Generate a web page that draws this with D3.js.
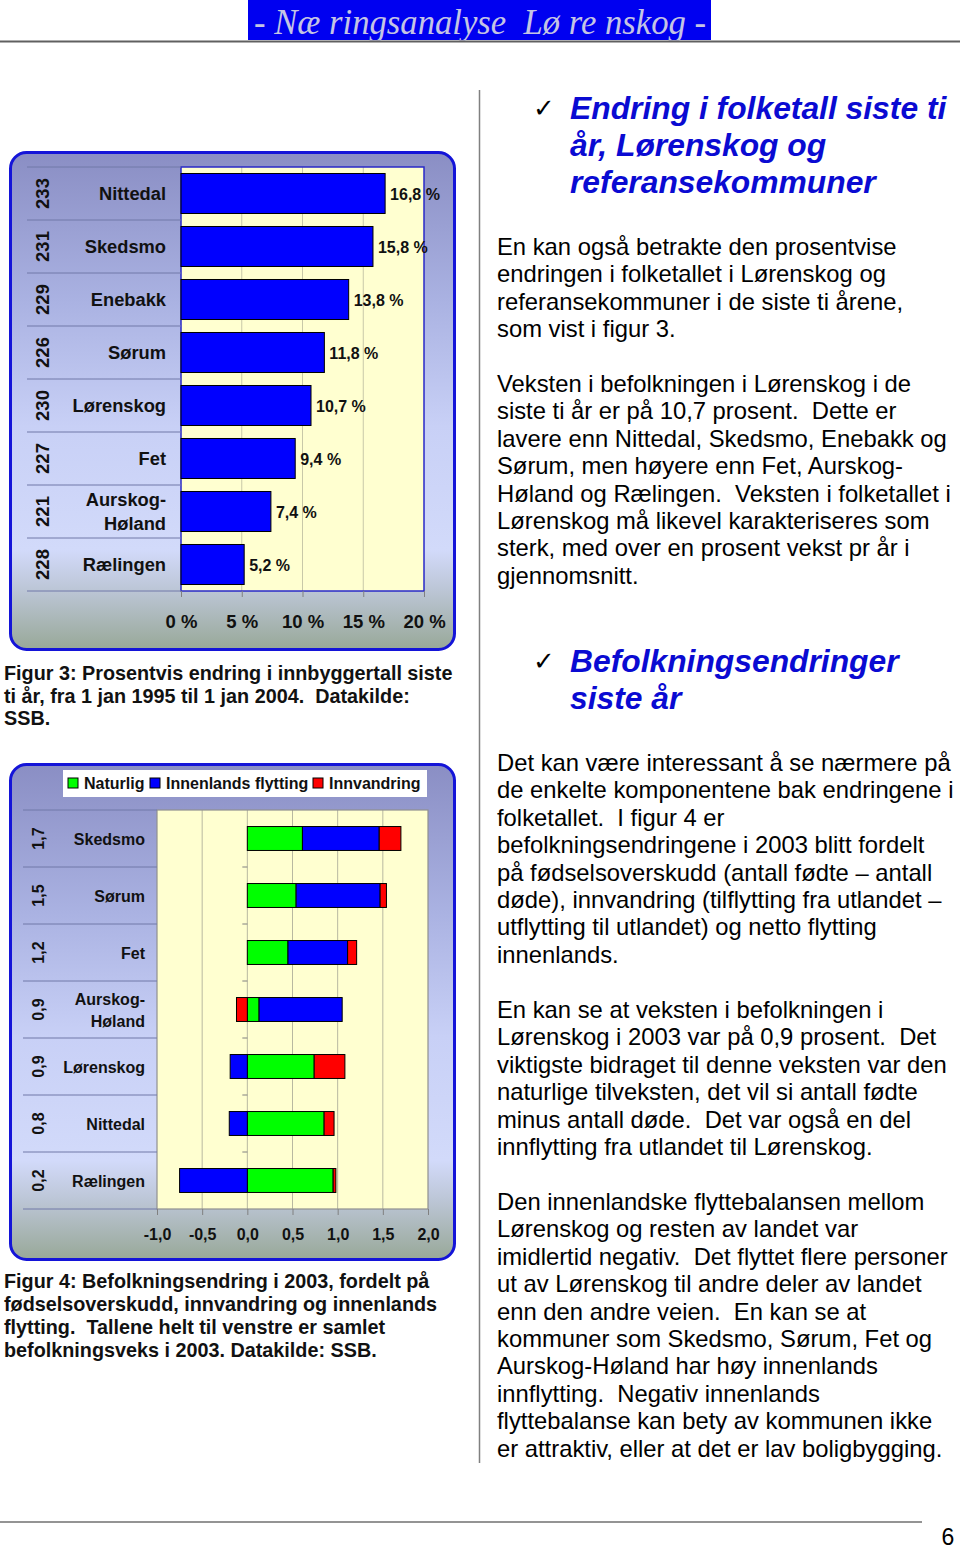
<!DOCTYPE html>
<html><head><meta charset="utf-8">
<script src="https://cdn.jsdelivr.net/npm/d3@7"></script>
<style>
html,body{margin:0;padding:0;background:#fff;}
svg{display:block;}
text{font-family:Arial,"Liberation Sans",Helvetica,sans-serif;white-space:pre;}
</style></head>
<body>
<svg id="page" width="960" height="1549"></svg>
<script>
// ---------- Figure 3 data ----------
const codes1 = ["233","231","229","226","230","227","221","228"];
const names1 = ["Nittedal","Skedsmo","Enebakk","Sørum","Lørenskog","Fet","Aurskog-Høland","Rælingen"];
const values1 = [16.8,15.8,13.8,11.8,10.7,9.4,7.4,5.2];
const ticks1 = [0,5,10,15,20];

// ---------- Figure 4 data ----------
const names2 = ["Skedsmo","Sørum","Fet","Aurskog-Høland","Lørenskog","Nittedal","Rælingen"];
const totals2 = ["1,7","1,5","1,2","0,9","0,9","0,8","0,2"];
const naturlig = [0.61,0.54,0.45,0.13,0.74,0.85,0.95];
const innenlands = [0.85,0.93,0.66,0.92,-0.19,-0.20,-0.75];
const innvandring = [0.24,0.07,0.10,-0.12,0.34,0.11,0.03];
const seriesNames = ["Naturlig","Innenlands flytting","Innvandring"];
const seriesColors = ["#00ff00","#0000ff","#ff0000"];
const ticks2 = [-1,-0.5,0,0.5,1,1.5,2];

// ---------- Text ----------
const headerText = "- Næ ringsanalyse  Lø re nskog -";
const heading1 = ["Endring i folketall siste ti","år, Lørenskog og","referansekommuner"];
const heading2 = ["Befolkningsendringer","siste år"];
const para1 = ["En kan også betrakte den prosentvise","endringen i folketallet i Lørenskog og","referansekommuner i de siste ti årene,","som vist i figur 3."];
const para2 = ["Veksten i befolkningen i Lørenskog i de","siste ti år er på 10,7 prosent.  Dette er","lavere enn Nittedal, Skedsmo, Enebakk og","Sørum, men høyere enn Fet, Aurskog-","Høland og Rælingen.  Veksten i folketallet i","Lørenskog må likevel karakteriseres som","sterk, med over en prosent vekst pr år i","gjennomsnitt."];
const para3 = ["Det kan være interessant å se nærmere på","de enkelte komponentene bak endringene i","folketallet.  I figur 4 er","befolkningsendringene i 2003 blitt fordelt","på fødselsoverskudd (antall fødte – antall","døde), innvandring (tilflytting fra utlandet –","utflytting til utlandet) og netto flytting","innenlands."];
const para4 = ["En kan se at veksten i befolkningen i","Lørenskog i 2003 var på 0,9 prosent.  Det","viktigste bidraget til denne veksten var den","naturlige tilveksten, det vil si antall fødte","minus antall døde.  Det var også en del","innflytting fra utlandet til Lørenskog."];
const para5 = ["Den innenlandske flyttebalansen mellom","Lørenskog og resten av landet var","imidlertid negativ.  Det flyttet flere personer","ut av Lørenskog til andre deler av landet","enn den andre veien.  En kan se at","kommuner som Skedsmo, Sørum, Fet og","Aurskog-Høland har høy innenlands","innflytting.  Negativ innenlands","flyttebalanse kan bety av kommunen ikke","er attraktiv, eller at det er lav boligbygging."];
const caption3 = ["Figur 3: Prosentvis endring i innbyggertall siste","ti år, fra 1 jan 1995 til 1 jan 2004.  Datakilde:","SSB."];
const caption4 = ["Figur 4: Befolkningsendring i 2003, fordelt på","fødselsoverskudd, innvandring og innenlands","flytting.  Tallene helt til venstre er samlet","befolkningsveks i 2003. Datakilde: SSB."];

const svg = d3.select("#page");
const defs = svg.append("defs");
const grad = defs.append("linearGradient").attr("id","boxGrad").attr("x1",0).attr("y1",0).attr("x2",0).attr("y2",1);
[[0,"#8a8ec4"],[0.3,"#aab2e2"],[0.55,"#c8d0f6"],[0.8,"#d2dafa"],[0.88,"#bcc6d6"],[1,"#98a898"]]
  .forEach(([o,c])=>grad.append("stop").attr("offset",o).attr("stop-color",c));

// ---------- Header ----------
svg.append("rect").attr("x",248).attr("y",0).attr("width",463).attr("height",40).attr("fill","#0000f0");
svg.append("text").attr("x",480).attr("y",34).attr("text-anchor","middle")
  .attr("font-style","italic")
  .attr("font-size",36).attr("fill","#c4c4e4").attr("textLength",452).attr("lengthAdjust","spacingAndGlyphs")
  .style("font-family","'Liberation Serif','Times New Roman',serif").text(headerText);
svg.append("line").attr("x1",0).attr("x2",960).attr("y1",41.5).attr("y2",41.5).attr("stroke","#606060").attr("stroke-width",2);

// divider
svg.append("line").attr("x1",479.5).attr("x2",479.5).attr("y1",90).attr("y2",1463).attr("stroke","#808080").attr("stroke-width",1.5);

// footer
svg.append("line").attr("x1",0).attr("x2",922).attr("y1",1522).attr("y2",1522).attr("stroke","#707070").attr("stroke-width",1.5);
svg.append("text").attr("x",948).attr("y",1545).attr("text-anchor","middle").attr("font-size",23).text("6");

// ---------- Figure 3 ----------
const g1 = svg.append("g");
g1.append("rect").attr("x",10.5).attr("y",152.5).attr("width",444).attr("height",497).attr("rx",16)
  .attr("fill","url(#boxGrad)").attr("stroke","#1414d8").attr("stroke-width",3);
const x1 = d3.scaleLinear().domain([0,20]).range([181,424]);
const y1 = d3.scaleBand().domain(names1).range([167,591]).paddingInner(0.245).paddingOuter(0.1225);
g1.append("rect").attr("x",x1(0)).attr("y",167).attr("width",x1(20)-x1(0)).attr("height",591-167).attr("fill","#ffffd0");
g1.selectAll(".grid1").data(ticks1.slice(1,-1)).join("line")
  .attr("x1",d=>x1(d)).attr("x2",d=>x1(d)).attr("y1",167).attr("y2",591).attr("stroke","#c8c8a8").attr("stroke-width",1);
g1.append("rect").attr("x",x1(0)).attr("y",167).attr("width",x1(20)-x1(0)).attr("height",591-167)
  .attr("fill","none").attr("stroke","#2828c8").attr("stroke-width",1.5);
// row separators
const step1 = y1.step();
const bounds1 = d3.range(names1.length+1).map(i=>167+i*step1);
g1.selectAll(".sep1").data(bounds1).join("line")
  .attr("x1",27).attr("x2",x1(0)).attr("y1",d=>d).attr("y2",d=>d).attr("stroke","#7078a8").attr("stroke-width",1);
// x axis
const ax1 = d3.axisBottom(x1).tickValues(ticks1).tickSize(6).tickPadding(18).tickFormat(d=>d+" %");
const axg1 = g1.append("g").attr("transform","translate(0,591)").call(ax1);
axg1.select(".domain").remove();
axg1.selectAll(".tick line").attr("stroke","#808080");
axg1.selectAll(".tick text").attr("font-size",18.5).attr("font-weight","bold").attr("fill","#111")
  .style("font-family","Arial,'Liberation Sans',sans-serif");
// bars
g1.selectAll(".bar1").data(values1).join("rect")
  .attr("x",x1(0)).attr("y",(d,i)=>y1(names1[i])).attr("width",d=>x1(d)-x1(0)).attr("height",y1.bandwidth())
  .attr("fill","#0000ff").attr("stroke","#000").attr("stroke-width",1);
g1.selectAll(".lbl1").data(values1).join("text")
  .attr("x",d=>x1(d)+5).attr("y",(d,i)=>y1(names1[i])+y1.bandwidth()/2+6)
  .attr("font-size",16).attr("font-weight","bold").attr("fill","#111")
  .text(d=>d.toFixed(1).replace(".",",")+" %");
// category names
names1.forEach((n,i)=>{
  const cy = y1(n)+y1.bandwidth()/2;
  const parts = n.includes("-") ? [n.split("-")[0]+"-", n.split("-")[1]] : [n];
  parts.forEach((p,j)=>{
    g1.append("text").attr("x",166).attr("y",cy+6+(j-(parts.length-1)/2)*24)
      .attr("text-anchor","end").attr("font-size",18.3).attr("font-weight","bold").attr("fill","#111").text(p);
  });
  g1.append("text").attr("transform",`translate(${49},${cy}) rotate(-90)`).attr("text-anchor","middle")
    .attr("font-size",18.5).attr("font-weight","bold").attr("fill","#111").text(codes1[i]);
});
caption3.forEach((t,i)=>svg.append("text").attr("x",4).attr("y",680+i*22.7).attr("font-size",19.8).attr("font-weight","bold").attr("fill","#111").text(t));

// ---------- Figure 4 ----------
const g2 = svg.append("g");
g2.append("rect").attr("x",10.5).attr("y",764.5).attr("width",444).attr("height",495).attr("rx",16)
  .attr("fill","url(#boxGrad)").attr("stroke","#1414d8").attr("stroke-width",3);
const x2 = d3.scaleLinear().domain([-1,2]).range([157,428]);
const y2 = d3.scaleBand().domain(names2).range([810,1209]).paddingInner(0.58).paddingOuter(0.29);
g2.append("rect").attr("x",x2(-1)).attr("y",810).attr("width",x2(2)-x2(-1)).attr("height",1209-810).attr("fill","#ffffd0");
g2.selectAll(".grid2").data(ticks2.slice(1,-1)).join("line")
  .attr("x1",d=>x2(d)).attr("x2",d=>x2(d)).attr("y1",810).attr("y2",1209).attr("stroke","#b8b8a0").attr("stroke-width",1);
g2.append("rect").attr("x",x2(-1)).attr("y",810).attr("width",x2(2)-x2(-1)).attr("height",1209-810)
  .attr("fill","none").attr("stroke","#909090").attr("stroke-width",1.2);
const step2 = y2.step();
const bounds2 = d3.range(names2.length+1).map(i=>810+i*step2);
g2.selectAll(".sep2").data(bounds2).join("line")
  .attr("x1",23).attr("x2",x2(-1)).attr("y1",d=>d).attr("y2",d=>d).attr("stroke","#7078a8").attr("stroke-width",1);
// category axis ticks at x=0
g2.selectAll(".ctick").data(bounds2.slice(1,-1)).join("line")
  .attr("x1",x2(0)-5).attr("x2",x2(0)).attr("y1",d=>d).attr("y2",d=>d).attr("stroke","#808080");
const fmt2 = v => (v<0?"-":"")+Math.abs(v).toFixed(1).replace(".",",");
const ax2 = d3.axisBottom(x2).tickValues(ticks2).tickSize(6).tickPadding(14).tickFormat(fmt2);
const axg2 = g2.append("g").attr("transform","translate(0,1209)").call(ax2);
axg2.select(".domain").remove();
axg2.selectAll(".tick line").attr("stroke","#808080");
axg2.selectAll(".tick text").attr("font-size",16).attr("font-weight","bold").attr("fill","#111")
  .style("font-family","Arial,'Liberation Sans',sans-serif");
// stacked bars
const rows2 = names2.map((n,i)=>({name:n,"Naturlig":naturlig[i],"Innenlands flytting":innenlands[i],"Innvandring":innvandring[i]}));
const stack2 = d3.stack().keys(seriesNames).offset(d3.stackOffsetDiverging)(rows2);
const color2 = d3.scaleOrdinal().domain(seriesNames).range(seriesColors);
g2.selectAll(".ser").data(stack2).join("g").attr("fill",d=>color2(d.key))
  .selectAll("rect").data(d=>d).join("rect")
  .attr("x",d=>x2(Math.min(d[0],d[1]))).attr("width",d=>Math.abs(x2(d[1])-x2(d[0])))
  .attr("y",d=>y2(d.data.name)).attr("height",y2.bandwidth())
  .attr("stroke","#000").attr("stroke-width",1);
names2.forEach((n,i)=>{
  const cy = y2(n)+y2.bandwidth()/2;
  const parts = n.includes("-") ? [n.split("-")[0]+"-", n.split("-")[1]] : [n];
  parts.forEach((p,j)=>{
    g2.append("text").attr("x",145).attr("y",cy+6+(j-(parts.length-1)/2)*22)
      .attr("text-anchor","end").attr("font-size",16).attr("font-weight","bold").attr("fill","#111").text(p);
  });
  g2.append("text").attr("transform",`translate(${44},${cy}) rotate(-90)`).attr("text-anchor","middle")
    .attr("font-size",16).attr("font-weight","bold").attr("fill","#111").text(totals2[i]);
});
// legend
const lg = g2.append("g");
lg.append("rect").attr("x",63).attr("y",770).attr("width",364).attr("height",27).attr("fill","#fff");
const legX = [68,150,313];
seriesNames.forEach((s,i)=>{
  lg.append("rect").attr("x",legX[i]).attr("y",778).attr("width",10).attr("height",10).attr("fill",color2(s)).attr("stroke","#000");
  lg.append("text").attr("x",legX[i]+16).attr("y",789).attr("font-size",16).attr("font-weight","bold").attr("fill","#111").text(s);
});
caption4.forEach((t,i)=>svg.append("text").attr("x",4).attr("y",1288+i*23).attr("font-size",19.8).attr("font-weight","bold").attr("fill","#111").text(t));

// ---------- Right column ----------
function heading(lines, y0){
  svg.append("text").attr("x",533).attr("y",y0-2).attr("font-size",26).attr("fill","#000")
    .style("font-family","'DejaVu Sans',sans-serif").text("✓");
  lines.forEach((t,i)=>svg.append("text").attr("x",570).attr("y",y0+i*37)
    .attr("font-size",31.8).attr("font-weight","bold").attr("font-style","italic").attr("fill","#0a0ad2").text(t));
}
heading(heading1,119);
heading(heading2,672);
function para(lines,y0){
  lines.forEach((t,i)=>svg.append("text").attr("x",497).attr("y",y0+i*27.4).attr("font-size",23.8).attr("fill","#000").text(t));
}
para(para1,255);
para(para2,392);
para(para3,771);
para(para4,1018);
para(para5,1210);
</script>
</body></html>
